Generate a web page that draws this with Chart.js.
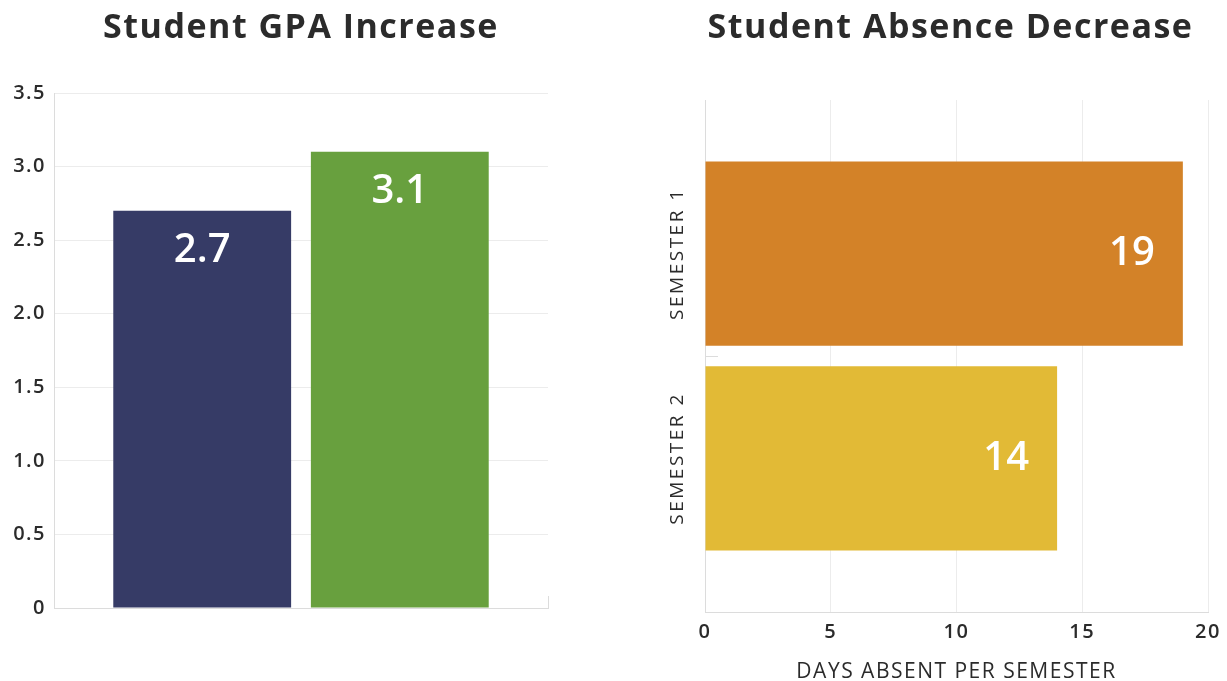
<!DOCTYPE html>
<html>
<head>
<meta charset="utf-8">
<script src="https://cdn.jsdelivr.net/npm/chart.js@4"></script>
<style>
  html, body { margin: 0; padding: 0; background: #fff; overflow: hidden; }
  #wrap { position: relative; width: 1227px; height: 681px; overflow: hidden; }
  #gpaChart { position: absolute; left: 0; top: 0; }
  #absChart { position: absolute; left: 643px; top: 0; }
</style>
</head>
<body>
<div id="wrap">
  <canvas id="gpaChart" width="604" height="681"></canvas>
  <canvas id="absChart" width="614" height="681"></canvas>
</div>
<script>
// GPA chart data
const gpaLabels = ["Semester 1", "Semester 2"];
const gpaValues = [2.7, 3.1];
const gpaColors = ["#363b66", "#68a03e"];
const gpaTicks = ["0", "0.5", "1.0", "1.5", "2.0", "2.5", "3.0", "3.5"];

// Absence chart data
const absLabels = ["SEMESTER 1", "SEMESTER 2"];
const absValues = [19, 14];
const absColors = ["#d38228", "#e2ba36"];

const FONT = "'Open Sans', sans-serif";
const INK = "#2b2b2b";
const LINE = "#dcdcdc";

// a bit of tracking on all chart text so it reads wider
const tracking = {
    id: "tracking",
    beforeDraw(chart, args, opts) {
        chart.ctx.letterSpacing = (opts.px || 0) + "px";
    }
};

// heading centred over the plot area rather than the canvas
const heading = {
    id: "heading",
    afterDraw(chart, args, opts) {
        const ctx = chart.ctx;
        const a = chart.chartArea;
        ctx.save();
        ctx.letterSpacing = "1.5px";
        ctx.fillStyle = INK;
        ctx.font = "700 34px " + FONT;
        ctx.textAlign = "center";
        ctx.textBaseline = "middle";
        ctx.fillText(opts.text, (a.left + a.right) / 2 + (opts.shift || 0), 28);
        ctx.restore();
    }
};

// white numbers written inside each bar
const valueLabels = {
    id: "valueLabels",
    afterDatasetsDraw(chart, args, opts) {
        const ctx = chart.ctx;
        ctx.save();
        ctx.letterSpacing = "0px";
        ctx.fillStyle = "#fff";
        ctx.font = "600 40px " + FONT;
        ctx.textBaseline = "middle";
        chart.data.datasets.forEach((ds, i) => {
            const bar = chart.getDatasetMeta(i).data[0];
            const txt = String(ds.data[0]);
            if (opts.horizontal) {
                ctx.textAlign = "right";
                ctx.fillText(txt, bar.x - 28, bar.y);
            } else {
                ctx.textAlign = "center";
                ctx.fillText(txt, bar.x, bar.y + 40);
            }
        });
        ctx.restore();
    }
};

// rotated semester names beside each horizontal bar
const sideLabels = {
    id: "sideLabels",
    afterDraw(chart, args, opts) {
        if (!opts.show) return;
        const ctx = chart.ctx;
        ctx.save();
        ctx.letterSpacing = "2.5px";
        ctx.fillStyle = INK;
        ctx.font = "400 19px " + FONT;
        ctx.textAlign = "center";
        ctx.textBaseline = "middle";
        const x = chart.chartArea.left - 27;
        chart.data.datasets.forEach((ds, i) => {
            const bar = chart.getDatasetMeta(i).data[0];
            ctx.save();
            ctx.translate(x, bar.y);
            ctx.rotate(-Math.PI / 2);
            ctx.fillText(ds.label, 0, 0);
            ctx.restore();
        });
        ctx.restore();
    }
};

new Chart(document.getElementById("gpaChart").getContext("2d"), {
    type: "bar",
    data: {
        labels: [""],
        datasets: gpaLabels.map((l, i) => ({
            label: l, data: [gpaValues[i]], backgroundColor: gpaColors[i]
        }))
    },
    plugins: [tracking, heading, valueLabels],
    options: {
        responsive: false,
        animation: false,
        layout: { padding: { top: 93, right: 56 } },
        plugins: {
            legend: { display: false },
            tooltip: { enabled: false },
            tracking: { px: 1.5 },
            heading: { text: "Student GPA Increase" },
            valueLabels: { horizontal: false }
        },
        scales: {
            x: {
                ticks: { display: false },
                grid: { drawOnChartArea: false, color: LINE, tickLength: -12 },
                border: { color: LINE },
                afterFit: s => { s.height = 73; }
            },
            y: {
                min: 0, max: 3.5,
                ticks: {
                    stepSize: 0.5,
                    color: INK,
                    padding: 8,
                    font: { family: FONT, size: 20, weight: 600 },
                    callback: (v, i) => gpaTicks[i]
                },
                grid: { color: "#ececec", drawTicks: false },
                border: { color: LINE },
                afterFit: s => { s.width = 54; }
            }
        }
    }
});

new Chart(document.getElementById("absChart").getContext("2d"), {
    type: "bar",
    data: {
        labels: [""],
        datasets: absLabels.map((l, i) => ({
            label: l, data: [absValues[i]], backgroundColor: absColors[i]
        }))
    },
    plugins: [tracking, heading, valueLabels, sideLabels],
    options: {
        indexAxis: "y",
        responsive: false,
        animation: false,
        layout: { padding: { top: 100, right: 49 } },
        plugins: {
            legend: { display: false },
            tooltip: { enabled: false },
            tracking: { px: 1.5 },
            heading: { text: "Student Absence Decrease", shift: -6 },
            valueLabels: { horizontal: true },
            sideLabels: { show: true }
        },
        scales: {
            x: {
                min: 0, max: 20,
                ticks: {
                    stepSize: 5,
                    color: INK,
                    padding: 8,
                    font: { family: FONT, size: 20, weight: 600 }
                },
                grid: { color: "#ececec", drawTicks: false },
                border: { color: LINE },
                title: {
                    display: true,
                    text: "DAYS ABSENT PER SEMESTER",
                    color: INK,
                    font: { family: FONT, size: 21 },
                    padding: { top: 14, bottom: -4 }
                },
                afterFit: s => { s.height = 69; }
            },
            y: {
                ticks: { display: false },
                grid: { offset: false, drawOnChartArea: false, color: LINE, tickLength: -13 },
                border: { color: LINE },
                afterFit: s => { s.width = 62; }
            }
        }
    }
});
</script>
</body>
</html>
